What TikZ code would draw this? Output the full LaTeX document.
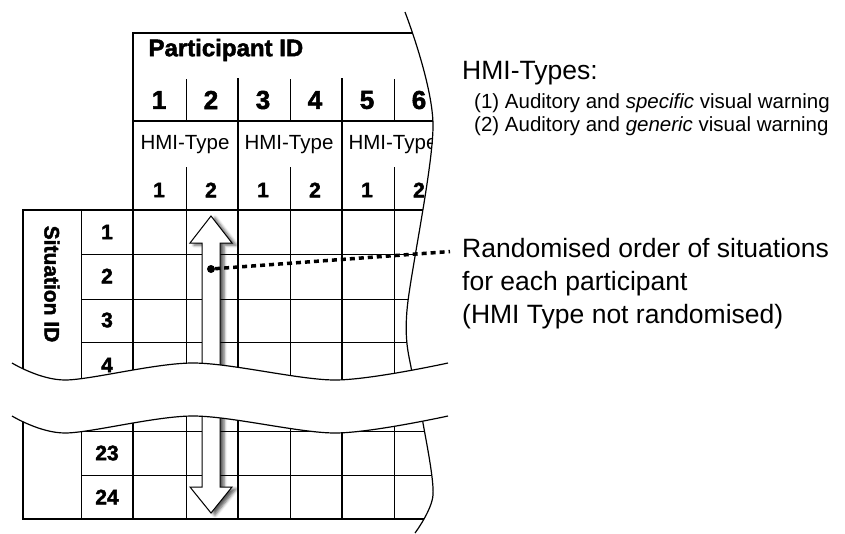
\documentclass[tikz,border=0pt]{standalone}
\usepackage{fontspec}
\setmainfont{Liberation Sans}
\newfontface\heavyfont{Liberation Sans Bold}[FakeBold=2]
\usetikzlibrary{shadows.blur}

\begin{document}
\begin{tikzpicture}[x=1pt, y=-1pt,
            thickline/.style={line width=2.2pt, line cap=rect},
            thinline/.style={line width=1pt},
            wave/.style={line width=1.2pt},
            bignum/.style={font=\heavyfont\fontsize{26}{30}\selectfont},
            smallnum/.style={font=\heavyfont\fontsize{21}{24}\selectfont},
            hmitype/.style={font=\fontsize{20.5}{24}\selectfont},
            bigtext/.style={anchor=base west, inner sep=0, font=\fontsize{26.5}{30}\selectfont},
            listtext/.style={anchor=base west, inner sep=0, font=\fontsize{20.5}{23}\selectfont}]
            \useasboundingbox (0,0) rectangle (845,533);
            \begin{scope}
              \clip (0,0) -- plot[smooth] coordinates {(405,12) (433,125) (407,310) (412,373) (423,423) (433,495) (415,533)} -- (0,533) -- cycle;
              \draw[thickline] (133,33) -- (470,33);
              \draw[thickline] (133,121) -- (470,121);
              \draw[thickline] (23,210) -- (470,210);
              \draw[thickline] (23,519) -- (470,519);
              \draw[thickline] (133,33) -- (133,519);
              \draw[thickline] (23,210) -- (23,519);
              \draw[thinline] (81,210) -- (81,519);
              \foreach \x in {238,342,446}
                \draw[thickline] (\x,79) -- (\x,519);
              \foreach \x in {186,290,394} {
                \draw[thinline] (\x,79) -- (\x,121);
                \draw[thinline] (\x,167) -- (\x,519);
              }
              \foreach \y in {254,299,342,431,475}
                \draw[thinline] (81,\y) -- (470,\y);
              \node[anchor=west, font=\heavyfont\fontsize{24}{28}\selectfont] (partid) at (145,50) {Participant ID};
              \foreach \n in {1,...,6}
                \node[bignum] (p\n) at (107+52*\n,100) {\n};
              \foreach \k in {1,2,3} {
                \node[hmitype] (hmi\k) at (81+104*\k,145) {HMI-Type};
                \node[smallnum] (t\k a) at (55+104*\k,190) {1};
                \node[smallnum] (t\k b) at (107+104*\k,190) {2};
              }
              \foreach \s/\y in {1/232,2/276,3/320,4/365,23/453,24/497}
                \node[smallnum] (s\s) at (107,\y) {\s};
              \node[smallnum, rotate=-90] (sitid) at (52,284) {Situation ID};
            \end{scope}
            % randomised order arrow
            \draw[thinline, fill=white, blur shadow={shadow xshift=4pt, shadow yshift=-2pt, shadow blur radius=3pt, shadow opacity=65}]
              (211,216) -- (232,243) -- (220,243) -- (220,487) -- (232,487) -- (211,513)
              -- (190,487) -- (202,487) -- (202,243) -- (190,243) -- cycle;
            \draw[wave] plot[smooth] coordinates {(405,12) (433,125) (407,310) (412,373) (423,423) (433,495) (415,533)};
            % break
            \fill[white] plot[smooth] coordinates {(12,363) (65,380) (193,363) (335,380) (448,363)}
              -- plot[smooth] coordinates {(448,416) (335,433) (193,416) (65,433) (12,416)} -- cycle;
            \draw[wave] plot[smooth] coordinates {(12,363) (65,380) (193,363) (335,380) (448,363)};
            \draw[wave] plot[smooth] coordinates {(12,416) (65,433) (193,416) (335,433) (448,416)};
            \node[bigtext] (hmitypes) at (462,79) {HMI-Types:};
            \node[listtext] (type1) at (474,108) {(1) Auditory and \textit{specific} visual warning};
            \node[listtext] (type2) at (474,131) {(2) Auditory and \textit{generic} visual warning};
            \node[bigtext] (rand1) at (462,257) {Randomised order of situations};
            \node[bigtext] (rand2) at (462,290) {for each participant};
            \node[bigtext] (rand3) at (462,323) {(HMI Type not randomised)};
            \node[circle, fill=black, minimum size=8pt, inner sep=0] (dot) at (211,269) {};
            \draw[line width=3.5pt, dash pattern=on 5pt off 4pt] (dot) -- ([xshift=-12pt, yshift=-4pt]rand1.west);
        \end{tikzpicture}
\end{document}
